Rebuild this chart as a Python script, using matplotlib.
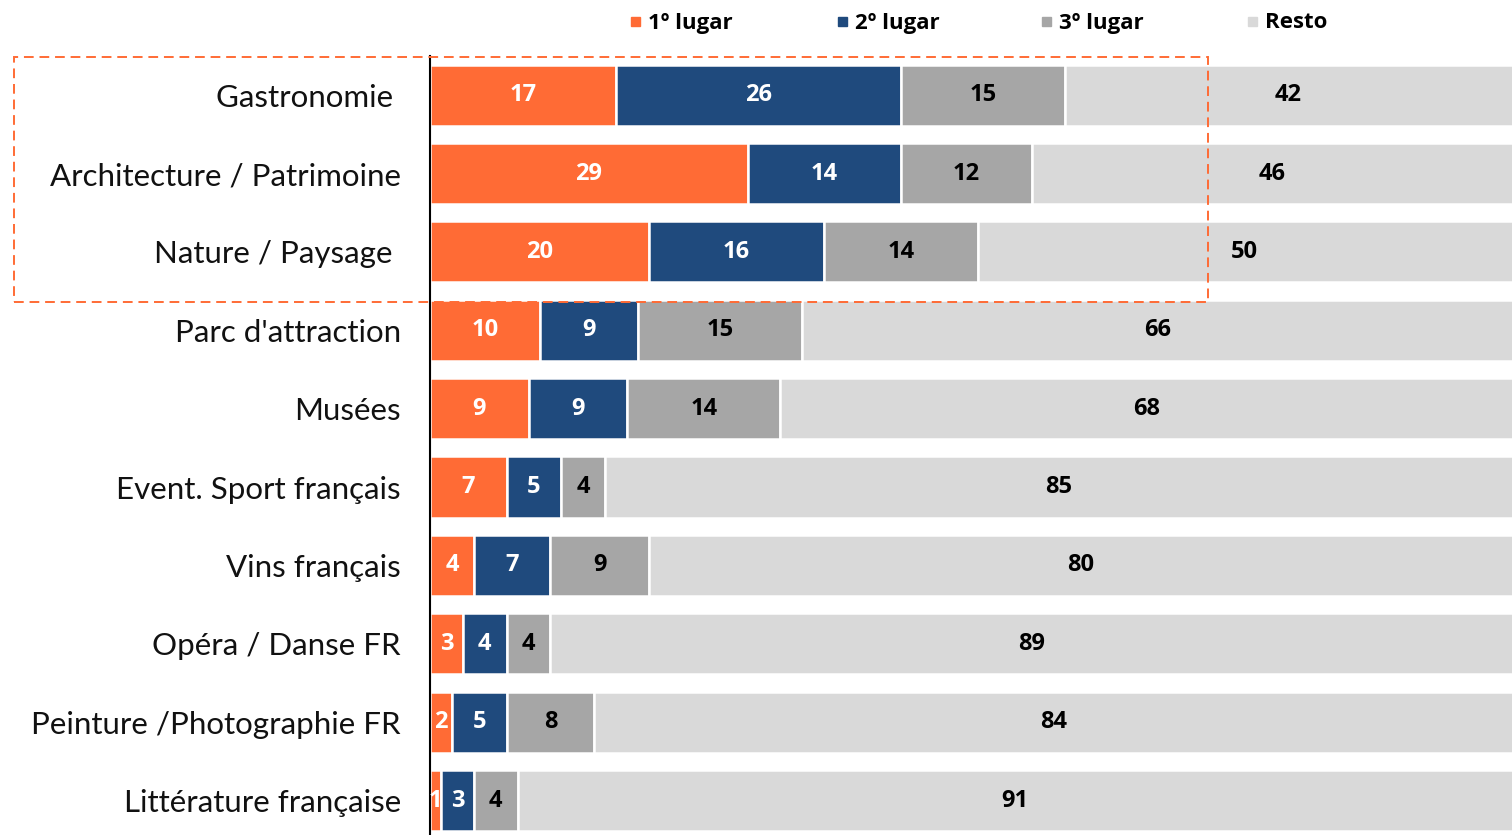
import numpy as np
import matplotlib.pyplot as plt
from matplotlib.patches import Rectangle

categories = ["Gastronomie ", "Architecture / Patrimoine", "Nature / Paysage ",
              "Parc d'attraction", "Musées", "Event. Sport français",
              "Vins français", "Opéra / Danse FR", "Peinture /Photographie FR",
              "Littérature française"]
primero = [17, 29, 20, 10, 9, 7, 4, 3, 2, 1]
segundo = [26, 14, 16, 9, 9, 5, 7, 4, 5, 3]
tercero = [15, 12, 14, 15, 14, 4, 9, 4, 8, 4]
resto = [42, 46, 50, 66, 68, 85, 80, 89, 84, 91]

series = ["1º lugar", "2º lugar", "3º lugar", "Resto"]
colors = ["#FF6B35", "#1F4A7D", "#A6A6A6", "#D9D9D9"]
label_colors = ["white", "white", "black", "black"]

W, H = 1512, 835
fig = plt.figure(figsize=(W / 100, H / 100), dpi=100)
ax = fig.add_axes([430 / W, 0, (W - 430) / W, (835 - 56) / H])

y = np.arange(len(categories))
left = np.zeros(len(categories))
for vals, name, c, lc in zip([primero, segundo, tercero, resto], series, colors, label_colors):
    bars = ax.barh(y, vals, left=left, height=0.78, color=c, edgecolor="white",
                   linewidth=1.8, label=name)
    ax.bar_label(bars, labels=[str(v) for v in vals], label_type="center",
                 color=lc, fontsize=17, fontweight="bold", family="Open Sans")
    left += np.array(vals)

ax.set_xlim(0, 98.8)
ax.set_ylim(9.44, -0.5)
ax.set_yticks(y)
ax.set_yticklabels(categories, fontsize=22.5, family="Lato", color="#111111")
ax.tick_params(axis="y", length=0, pad=21)
ax.set_xticks([])
for s in ["top", "right", "bottom"]:
    ax.spines[s].set_visible(False)
ax.spines["left"].set_linewidth(1.5)
ax.spines["left"].set_color("black")

# legend laid out by hand, evenly spaced like the original
leg_x = [635, 842, 1046, 1252]
for lx, name, c in zip(leg_x, series, colors):
    fig.patches.append(Rectangle(((lx - 4) / W, 1 - 26 / H), 9 / W, 9 / H,
                                 transform=fig.transFigure, color=c))
    fig.text((lx + 13) / W, 1 - 23 / H, name, fontsize=16, fontweight="bold",
             family="Open Sans", va="center", ha="left")

# dashed highlight box round the top three
fig.patches.append(Rectangle((14 / W, 1 - 302 / H), (1208 - 14) / W, (302 - 57) / H,
                             transform=fig.transFigure, fill=False,
                             edgecolor="#FF6B35", linewidth=1.4, linestyle=(0, (5, 3))))

fig.savefig("out.png", dpi=100)
